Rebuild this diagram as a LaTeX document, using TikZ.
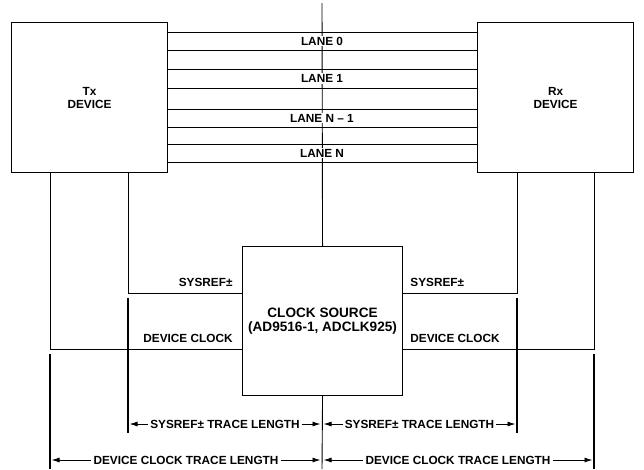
\documentclass[tikz,border=0pt]{standalone}
\usepackage{fontspec}
\setmainfont{Liberation Sans}
\usetikzlibrary{arrows.meta}
\begin{document}
\begin{tikzpicture}[x=1pt,y=-1pt,
  line width=0.9pt,
  lbl/.style={font=\bfseries\fontsize{11.8}{12}\selectfont, inner sep=1pt},
  lanelbl/.style={lbl, fill=white},
  ext/.style={line width=1.2pt},
  dim/.style={line width=0.9pt, {Latex[length=8pt,width=5pt]}-{Latex[length=8pt,width=5pt]}, shorten <=1.5pt, shorten >=1.5pt},
  blk/.style={draw, line width=1.1pt, fill=white}]
\useasboundingbox (0,0) rectangle (644,469);
% center line
\coordinate (ctop) at (322,3);
\coordinate (cbot) at (322,469);
% boxes
\node[blk, minimum width=156pt, minimum height=150pt, anchor=north west,
  align=center, font=\bfseries\fontsize{11.8}{13}\selectfont] (tx) at (11,22) {Tx\\DEVICE};
\node[blk, minimum width=156pt, minimum height=150pt, anchor=north west,
  align=center, font=\bfseries\fontsize{11.8}{13}\selectfont] (rx) at (477,22) {Rx\\DEVICE};
\node[blk, minimum width=160pt, minimum height=149pt, anchor=north west,
  align=center, font=\bfseries\fontsize{13.6}{14.5}\selectfont] (clk) at (242,246) {CLOCK SOURCE\\(AD9516-1, ADCLK925)};
\draw (ctop) -- (clk.north);
\draw (clk.south) -- (cbot);
% lanes
\foreach \ya/\yb/\t/\n in {32/50/LANE 0/l0, 69/88/LANE 1/l1, 109/127/LANE N -- 1/l2, 144/162/LANE N/l3}{
  \coordinate (\n a) at (167,\ya);
  \coordinate (\n b) at (477,\ya);
  \coordinate (\n c) at (167,\yb);
  \coordinate (\n d) at (477,\yb);
  \draw (\n a) -- (\n b);
  \draw (\n c) -- (\n d);
  \node[lanelbl] (\n t) at (322,{(\ya+\yb)/2}) {\t};
}
% left connections
\coordinate (txa) at (50,172);
\coordinate (txb) at (128,172);
\coordinate (txa2) at (50,349);
\coordinate (txb2) at (128,293);
\coordinate (clkL1) at (242,293);
\coordinate (clkL2) at (242,349);
\draw (txb) -- (txb2) -- (clkL1);
\draw (txa) -- (txa2) -- (clkL2);
\node[lbl, anchor=south east] (sysL) at (234,288) {SYSREF±};
\node[lbl, anchor=south east] (dcL) at (234,344) {DEVICE CLOCK};
% right connections
\coordinate (rxa) at (517,172);
\coordinate (rxb) at (594,172);
\coordinate (rxa2) at (517,293);
\coordinate (rxb2) at (594,349);
\coordinate (clkR1) at (402,293);
\coordinate (clkR2) at (402,349);
\draw (rxa) -- (rxa2) -- (clkR1);
\draw (rxb) -- (rxb2) -- (clkR2);
\node[lbl, anchor=south west] (sysR) at (409,288) {SYSREF±};
\node[lbl, anchor=south west] (dcR) at (409,344) {DEVICE CLOCK};
% extension lines
\coordinate (e1a) at (50,354);  \coordinate (e1b) at (50,469);
\coordinate (e2a) at (128,298); \coordinate (e2b) at (128,433);
\coordinate (e3a) at (517,298); \coordinate (e3b) at (517,433);
\coordinate (e4a) at (594,354); \coordinate (e4b) at (594,469);
\draw[ext] (e1a) -- (e1b);
\draw[ext] (e2a) -- (e2b);
\draw[ext] (e3a) -- (e3b);
\draw[ext] (e4a) -- (e4b);
% dimensions
\coordinate (s1) at (128,424); \coordinate (s2) at (322,424); \coordinate (s3) at (517,424);
\coordinate (d1) at (50,460); \coordinate (d2) at (322,460); \coordinate (d3) at (594,460);
\draw[dim] (s1) -- (s2) node[midway, lbl, fill=white, inner xsep=2pt] (st1) {SYSREF± TRACE LENGTH};
\draw[dim] (s2) -- (s3) node[midway, lbl, fill=white, inner xsep=2pt] (st2) {SYSREF± TRACE LENGTH};
\draw[dim] (d1) -- (d2) node[midway, lbl, fill=white, inner xsep=3pt] (dt1) {DEVICE CLOCK TRACE LENGTH};
\draw[dim] (d2) -- (d3) node[midway, lbl, fill=white, inner xsep=3pt] (dt2) {DEVICE CLOCK TRACE LENGTH};
\end{tikzpicture}
\end{document}
